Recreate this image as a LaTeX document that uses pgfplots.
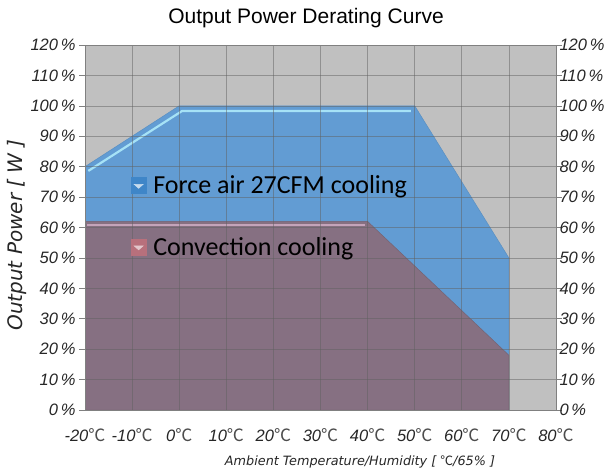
\documentclass[border=0pt]{standalone}
\usepackage{pgfplots}
\pgfplotsset{compat=1.18}
\usepackage{fontspec}
\setmainfont{Liberation Sans}
\newfontfamily\cjk{Noto Sans CJK SC}
\newfontfamily\carlito{Carlito}
\newfontfamily\dejavu{DejaVu Sans}
\definecolor{bgc}{HTML}{C0C0C0}
\definecolor{bluefill}{HTML}{629CD3}
\definecolor{purplefill}{HTML}{867082}
\definecolor{bluehi}{HTML}{A6E2F6}
\definecolor{purplehi}{HTML}{C4A4BA}
\definecolor{bluekey}{HTML}{3F86C8}
\definecolor{redkey}{HTML}{B8707C}
\begin{document}
\begin{tikzpicture}
\path[use as bounding box] (0pt,0pt) rectangle (614pt,472pt);
\begin{axis}[
  at={(85pt,62pt)}, anchor=south west,
  width=471pt, height=365pt, scale only axis,
  xmin=-20, xmax=80, ymin=0, ymax=120,
  xtick={-20,-10,...,80}, ytick={0,10,...,120},
  axis background/.style={fill=bgc},
  axis on top,
  grid=major,
  major grid style={draw=black!62, opacity=0.5, line width=0.6pt},
  axis line style={draw=black!50, line width=0.8pt},
  x axis line style={draw=black!60},
  ytick style={draw=black!50, line width=0.6pt},
  xtick style={draw=none},
  tick align=outside, major tick length=6pt,
  /pgf/number format/assume math mode=true,
  tick label style={font=\itshape\fontsize{16.5}{18}\selectfont, text=black!85},
  xticklabel style={yshift=-9pt},
  xticklabel={\pgfmathprintnumber{\tick}{\cjk\fontsize{17}{18}\selectfont\color{black!70}℃}},
  yticklabel={\pgfmathprintnumber{\tick}\,\%},
  legend style={at={(axis cs:-10.3,77.8)}, anchor=north west, draw=none, fill=none,
    font=\carlito\fontsize{26}{30}\selectfont, row sep=38pt, inner sep=0pt},
  legend cell align=left,
]
\addplot[fill=bluefill, draw=bluefill!92!black, line width=0.5pt,
  legend image code/.code={\fill[bluekey] (0pt,-8pt) rectangle (15pt,8pt);
    \fill[white!70!bluekey] (3pt,1pt) -- (12pt,1pt) -- (7.5pt,-3pt) -- cycle;
    \path (20pt,0pt);}]
  coordinates {(-20,80) (0,100) (50,100) (70,50) (70,0) (-20,0)} -- cycle;
\addlegendentry{Force air 27CFM cooling}
\addplot[fill=purplefill, draw=purplefill!88!black, line width=0.5pt,
  legend image code/.code={\fill[redkey] (0pt,-8pt) rectangle (15pt,8pt);
    \fill[white!60!redkey] (3pt,1pt) -- (12pt,1pt) -- (7.5pt,-3pt) -- cycle;
    \path (20pt,0pt);}]
  coordinates {(-20,62) (40,62) (70,18) (70,0) (-20,0)} -- cycle;
\addlegendentry{Convection cooling}
\addplot[draw=bluehi, line width=2.2pt, forget plot]
  coordinates {(-19.3,78.6) (0.6,98.3) (49.2,98.3)};
\addplot[draw=purplehi, line width=2pt, forget plot]
  coordinates {(-19.5,60.9) (39.5,60.9)};
\end{axis}
\begin{axis}[
  at={(85pt,62pt)}, anchor=south west,
  width=471pt, height=365pt, scale only axis,
  xmin=-20, xmax=80, ymin=0, ymax=120,
  hide x axis, axis y line*=right,
  ytick={0,10,...,120},
  y axis line style={draw=black!50, line width=0.8pt},
  ytick style={draw=none},
  /pgf/number format/assume math mode=true,
  yticklabel style={font=\itshape\fontsize{16.5}{18}\selectfont, text=black!85, anchor=west},
  yticklabel={\pgfmathprintnumber{\tick}\,\%},
]
\addplot[draw=none] coordinates {(0,0)};
\end{axis}
\node[font=\fontsize{21}{24}\selectfont] at (306pt,454pt) {Output Power Derating Curve};
\node[rotate=90, font=\dejavu\itshape\fontsize{20}{22}\selectfont, text=black!85] at (17pt,237pt) {Output Power [ W ]};
\node[font=\dejavu\itshape\fontsize{12.8}{14}\selectfont, text=black!85] at (360pt,10pt) {Ambient Temperature/Humidity [ {\cjk ℃}/65\% ]};
\end{tikzpicture}
\end{document}
